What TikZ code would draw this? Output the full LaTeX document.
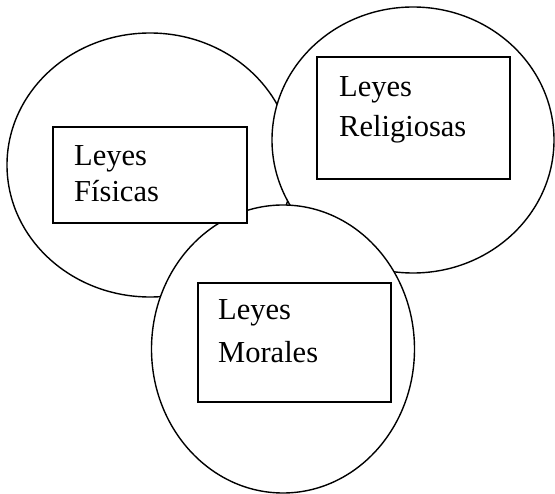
\documentclass[tikz,border=0pt]{standalone}
\usepackage{fontspec}
\setmainfont{Liberation Serif}
\usetikzlibrary{shapes.geometric}
\tikzset{
  circ/.style={ellipse, draw=black, fill=white, line width=1.4pt, inner sep=0pt},
  lawbox/.style={rectangle, draw=black, fill=white, line width=1.5pt, inner sep=0pt},
  lbl/.style={anchor=base west, inner sep=0pt, font=\fontsize{30.5}{36}\selectfont}
}
\begin{document}
\begin{tikzpicture}[x=1pt,y=-1pt]
\useasboundingbox (0,0) rectangle (555,494);
% ellipses, back to front
\node[circ, minimum width=286pt, minimum height=264pt] (left) at (150,165) {};
\node[circ, minimum width=282pt, minimum height=266pt] (right) at (413,140) {};
\node[circ, minimum width=263pt, minimum height=288pt] (bottom) at (283,349) {};
% boxes
\node[lawbox, minimum width=194pt, minimum height=96pt] (bfis) at (150,175) {};
\node[lawbox, minimum width=193pt, minimum height=122pt] (brel) at (413.5,118) {};
\node[lawbox, minimum width=193pt, minimum height=119pt] (bmor) at (294.5,342.5) {};
% labels
\node[lbl] (fis1) at (74,166) {Leyes};
\node[lbl] (fis2) at (74,202) {Físicas};
\node[lbl] (rel1) at (339,97) {Leyes};
\node[lbl] (rel2) at (339,137) {Religiosas};
\node[lbl] (mor1) at (218,320) {Leyes};
\node[lbl] (mor2) at (218,363) {Morales};
\end{tikzpicture}
\end{document}
